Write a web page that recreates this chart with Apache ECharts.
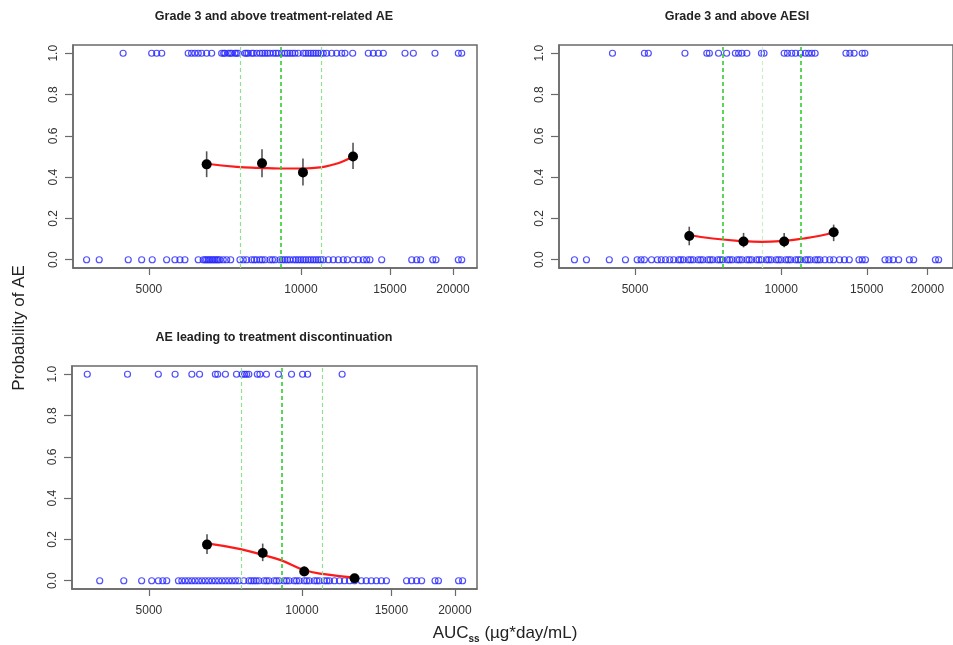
<!DOCTYPE html>
<html><head><meta charset="utf-8">
<script src="https://cdn.jsdelivr.net/npm/echarts@6/dist/echarts.min.js"></script>
<style>html,body{margin:0;padding:0;background:#fff}#c{width:953px;height:645px}</style>
</head><body><div id="c"></div>
<script>
// ---------- data ----------
const xTickValues = [5000, 10000, 15000, 20000];
const yTickValues = [0, 0.2, 0.4, 0.6, 0.8, 1.0];
const panelTitles = ['Grade 3 and above treatment-related AE', 'Grade 3 and above AESI', 'AE leading to treatment discontinuation'];
const yAxisTitle = 'Probability of AE';

// Panel 1: Grade 3 and above treatment-related AE
const p1Events = [4445, 5063, 5180, 5300, 5980, 6073, 6165, 6260, 6358, 6505, 6655, 6966, 7030, 7071, 7178, 7240, 7291, 7401, 7450, 7513, 7745, 7800, 7862, 7986, 8050, 8171, 8294, 8390, 8485, 8580, 8681, 8814, 8920, 9016, 9158, 9297, 9400, 9510, 9620, 9730, 9878, 10106, 10220, 10340, 10460, 10577, 10700, 10821, 10950, 11071, 11244, 11503, 11768, 12039, 12221, 12659, 13594, 13907, 14228, 14555, 16068, 16690, 18421, 20489, 20808];
const p1NoEvents = [3763, 3986, 4550, 4837, 5076, 5420, 5629, 5759, 5892, 6260, 6404, 6460, 6505, 6560, 6603, 6660, 6703, 6760, 6809, 6860, 6912, 7017, 7127, 7258, 7572, 7687, 7808, 7986, 8080, 8171, 8294, 8380, 8485, 8681, 8780, 8883, 9087, 9190, 9297, 9400, 9510, 9656, 9770, 9878, 9990, 10106, 10220, 10340, 10460, 10577, 10700, 10821, 10940, 11071, 11328, 11588, 11855, 12128, 12351, 12694, 12986, 13285, 13492, 13696, 14448, 16568, 16950, 17258, 18233, 18506, 20489, 20808];
const p1BinAUC = [6505, 8372, 10091, 12678];
const p1BinProb = [0.462, 0.467, 0.423, 0.500];
const p1BinLow = [0.400, 0.400, 0.360, 0.440];
const p1BinHigh = [0.525, 0.535, 0.490, 0.567];
const p1CurveAUC = [6505, 7460, 8294, 9087, 10106, 10905, 11588, 12128, 12694];
const p1CurveProb = [0.465, 0.450, 0.445, 0.442, 0.442, 0.447, 0.461, 0.477, 0.501];
const p1Quartiles = [7640, 9087, 11055];

// Panel 2: Grade 3 and above AESI
const p2Events = [4493, 5228, 5325, 6335, 7027, 7112, 7428, 7718, 8045, 8168, 8300, 8494, 9105, 9215, 10139, 10297, 10507, 10703, 10954, 11211, 11383, 11559, 11741, 13588, 13843, 14125, 14678, 14862];
const p2NoEvents = [3752, 3972, 4426, 4778, 5051, 5145, 5228, 5406, 5559, 5662, 5776, 5895, 6005, 6146, 6210, 6289, 6436, 6510, 6587, 6741, 6820, 6899, 7060, 7140, 7225, 7394, 7480, 7567, 7744, 7830, 7925, 8110, 8200, 8300, 8494, 8590, 8693, 8896, 9000, 9105, 9317, 9420, 9535, 9758, 9870, 9990, 10219, 10340, 10459, 10703, 10830, 10954, 11211, 11340, 11471, 11741, 11880, 12014, 12296, 12585, 12819, 13181, 13490, 13804, 14454, 14678, 14903, 16351, 16655, 16996, 17445, 18354, 18730, 20765, 21083];
const p2BinAUC = [6465, 8363, 10139, 12819];
const p2BinProb = [0.115, 0.088, 0.088, 0.133];
const p2BinLow = [0.070, 0.060, 0.060, 0.090];
const p2BinHigh = [0.160, 0.130, 0.130, 0.170];
const p2CurveAUC = [6465, 7225, 8363, 9105, 10139, 11123, 12014, 12819];
const p2CurveProb = [0.120, 0.103, 0.090, 0.087, 0.092, 0.103, 0.116, 0.132];
const p2Quartiles = [7613, 9158, 11070];

// Panel 3: AE leading to treatment discontinuation
const p3Events = [3781, 4537, 5217, 5629, 6073, 6289, 6756, 6828, 7071, 7435, 7630, 7712, 7783, 7862, 8171, 8268, 8514, 8993, 9541, 10030, 10263, 12000];
const p3NoEvents = [4000, 4461, 4837, 5063, 5217, 5323, 5420, 5715, 5804, 5892, 5980, 6073, 6165, 6260, 6358, 6455, 6553, 6655, 6756, 6858, 6966, 7071, 7178, 7291, 7400, 7513, 7687, 7862, 7950, 8043, 8130, 8231, 8422, 8520, 8614, 8814, 8910, 9016, 9225, 9330, 9438, 9656, 9760, 9878, 10106, 10220, 10340, 10577, 10700, 10821, 11071, 11200, 11328, 11588, 11855, 12128, 12408, 12694, 13089, 13386, 13696, 14013, 14337, 14667, 16068, 16440, 16818, 17203, 18281, 18566, 20339, 20714];
const p3BinAUC = [6505, 8372, 10106, 12694];
const p3BinProb = [0.175, 0.134, 0.045, 0.012];
const p3BinLow = [0.130, 0.095, 0.028, 0.000];
const p3BinHigh = [0.225, 0.180, 0.070, 0.025];
const p3CurveAUC = [6505, 7572, 8390, 9087, 10106, 11071, 12694];
const p3CurveProb = [0.181, 0.153, 0.124, 0.100, 0.052, 0.032, 0.015];
const p3Quartiles = [7640, 9087, 11055];

// ---------- layout ----------
const FONT = 'Liberation Sans, Arial, sans-serif';
const lg = Math.log10;
const layouts = [
  {grid: {left: 73, top: 45, width: 404, height: 223}, xMin: 3537, xMax: 22310, titleX: 274, titleY: 17, strongMid: true},
  {grid: {left: 559, top: 45, width: 404, height: 223}, xMin: 3487, xMax: 22570, titleX: 737, titleY: 17, strongMid: false},
  {grid: {left: 72, top: 366, width: 405, height: 223}, xMin: 3528, xMax: 22110, titleX: 274, titleY: 338, strongMid: true}
];
const panelData = [
  [p1Events, p1NoEvents, p1BinAUC, p1BinProb, p1BinLow, p1BinHigh, p1CurveAUC, p1CurveProb, p1Quartiles],
  [p2Events, p2NoEvents, p2BinAUC, p2BinProb, p2BinLow, p2BinHigh, p2CurveAUC, p2CurveProb, p2Quartiles],
  [p3Events, p3NoEvents, p3BinAUC, p3BinProb, p3BinLow, p3BinHigh, p3CurveAUC, p3CurveProb, p3Quartiles]
];

const grids = [], xAxes = [], yAxes = [], series = [], graphics = [];
const boxColor = '#6a6a6a';
const labelColor = '#333';
const strongGreen = '#33cc33', lightGreen = '#8fe08f', paleGreen = '#c8f0c8';
const circleStyle = {color: 'rgba(255,255,255,0)', borderColor: 'rgba(40,40,255,0.82)', borderWidth: 1.2, opacity: 1};

layouts.forEach((L, i) => {
  const [ev, nev, bx, bp, bl, bh, cx, cy, q] = panelData[i];
  grids.push(Object.assign({show: true, borderColor: boxColor, borderWidth: 1.5, backgroundColor: 'transparent'}, L.grid));
  xAxes.push({
    type: 'value', gridIndex: i, min: lg(L.xMin), max: lg(L.xMax),
    splitLine: {show: false},
    axisLine: {show: true, onZero: false, lineStyle: {color: boxColor, width: 1.5}},
    axisTick: {show: true, length: 7, lineStyle: {color: boxColor, width: 1.2}, customValues: xTickValues.map(lg)},
    axisLabel: {margin: 16, color: labelColor, fontFamily: FONT, fontSize: 12,
      customValues: xTickValues.map(lg), formatter: v => String(Math.round(Math.pow(10, v)))}
  });
  yAxes.push({
    type: 'value', gridIndex: i, min: -0.04, max: 1.04,
    splitLine: {show: false},
    axisLine: {show: true, onZero: false, lineStyle: {color: boxColor, width: 1.5}},
    axisTick: {show: true, length: 8, lineStyle: {color: boxColor, width: 1.2}, customValues: yTickValues},
    axisLabel: {margin: 13, rotate: 90, color: labelColor, fontFamily: FONT, fontSize: 12,
      customValues: yTickValues, formatter: v => v.toFixed(1)}
  });
  const midColor = L.strongMid ? strongGreen : paleGreen;
  const outerColor = L.strongMid ? lightGreen : strongGreen;
  const qLines = q.map((v, k) => ({
    xAxis: lg(v),
    lineStyle: {color: k === 1 ? midColor : outerColor, width: (k === 1) === L.strongMid ? 1.6 : 1.2, type: [4, 3]}
  }));
  series.push({
    type: 'scatter', xAxisIndex: i, yAxisIndex: i, silent: true,
    symbol: 'circle', symbolSize: 6, itemStyle: circleStyle,
    data: nev.map(v => [lg(v), 0]),
    markLine: {silent: true, symbol: 'none', label: {show: false}, animation: false, data: qLines}
  });
  series.push({
    type: 'scatter', xAxisIndex: i, yAxisIndex: i, silent: true,
    symbol: 'circle', symbolSize: 6, itemStyle: circleStyle,
    data: ev.map(v => [lg(v), 1])
  });
  series.push({
    type: 'custom', xAxisIndex: i, yAxisIndex: i, silent: true, z: 3,
    data: bx.map((v, k) => [lg(v), bl[k], bh[k]]),
    encode: {x: 0, y: [1, 2]},
    renderItem: (params, api) => {
      const a = api.coord([api.value(0), api.value(1)]);
      const b = api.coord([api.value(0), api.value(2)]);
      return {type: 'line', shape: {x1: a[0], y1: a[1], x2: b[0], y2: b[1]}, style: {stroke: '#555', lineWidth: 1.6}};
    }
  });
  series.push({
    type: 'line', xAxisIndex: i, yAxisIndex: i, silent: true, smooth: true, showSymbol: false, z: 4,
    lineStyle: {color: '#ff1a1a', width: 2.2},
    data: cx.map((v, k) => [lg(v), cy[k]])
  });
  series.push({
    type: 'scatter', xAxisIndex: i, yAxisIndex: i, silent: true, z: 5,
    symbol: 'circle', symbolSize: 10,
    itemStyle: {color: '#000', opacity: 1},
    data: bx.map((v, k) => [lg(v), bp[k]])
  });
  graphics.push({
    type: 'text', x: L.titleX, y: L.titleY, silent: true,
    style: {text: panelTitles[i], fill: '#222', font: 'bold 12.5px ' + FONT, textAlign: 'center', textVerticalAlign: 'middle'}
  });
});

// axis titles
graphics.push({
  type: 'text', x: 19, y: 328, rotation: Math.PI / 2, silent: true,
  style: {text: yAxisTitle, fill: '#222', font: '17px ' + FONT, textAlign: 'center', textVerticalAlign: 'middle'}
});
graphics.push({
  type: 'text', x: 505, y: 633, silent: true,
  style: {
    text: '{a|AUC}{s|ss}{a| (µg*day/mL)}', textAlign: 'center', textVerticalAlign: 'middle',
    rich: {
      a: {fontSize: 17, fontFamily: FONT, fill: '#222', lineHeight: 22},
      s: {fontSize: 10, fontFamily: FONT, fontWeight: 'bold', fill: '#222', lineHeight: 22, verticalAlign: 'bottom', padding: [8, 0, 0, 0]}
    }
  }
});

const chart = echarts.init(document.getElementById('c'), null, {renderer: 'canvas'});
chart.setOption({animation: false, grid: grids, xAxis: xAxes, yAxis: yAxes, series: series, graphic: {elements: graphics}});
</script>
</body></html>
